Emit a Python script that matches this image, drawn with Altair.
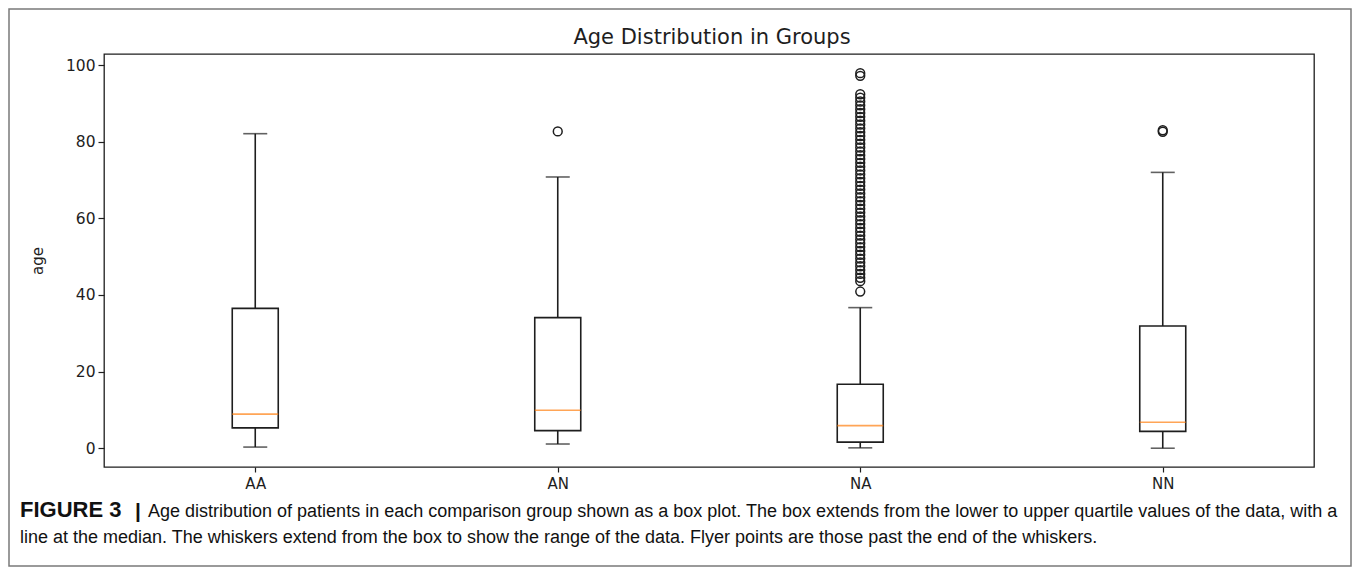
import altair as alt
import pandas as pd

# ---- data ----
groups = ["AA", "AN", "NA", "NN"]
whisker_low = [0.3, 1.1, 0.1, 0.0]
q1 = [5.3, 4.6, 1.6, 4.4]
median = [8.9, 9.9, 5.9, 6.8]
q3 = [36.5, 34.1, 16.7, 31.9]
whisker_high = [82.1, 70.8, 36.7, 72.0]

outliers_AN = [82.7]
outliers_NA = [40.9, 43.6, 44.5, 45.5, 46.5, 47.5, 48.5, 49.5, 50.5, 51.5, 52.5,
               53.5, 54.5, 55.5, 56.5, 57.5, 58.5, 59.5, 60.5, 61.5, 62.5, 63.5,
               64.5, 65.5, 66.5, 67.5, 68.5, 69.5, 70.5, 71.5, 72.5, 73.5, 74.5,
               75.5, 76.5, 77.5, 78.5, 79.5, 80.5, 81.5, 82.5, 83.5, 84.5, 85.5,
               86.5, 87.5, 88.5, 89.5, 90.5, 91.5, 92.4, 97.2, 97.9]
outliers_NN = [82.6, 83.0]

y_ticks = [0, 20, 40, 60, 80, 100]
y_domain = [-4.9, 102.9]

title_text = "Age Distribution in Groups"
y_title = "age"
caption_figure = "FIGURE 3"
caption_bar = "|"
caption_line1 = ("Age distribution of patients in each comparison group shown as a box plot. "
                 "The box extends from the lower to upper quartile values of the data, with a")
caption_line2 = ("line at the median. The whiskers extend from the box to show the range of the data. "
                 "Flyer points are those past the end of the whiskers.")

# ---- tables ----
box_df = pd.DataFrame({"group": groups, "low": whisker_low, "q1": q1,
                       "median": median, "q3": q3, "high": whisker_high})
out_df = pd.DataFrame({
    "group": ["AN"] * len(outliers_AN) + ["NA"] * len(outliers_NA) + ["NN"] * len(outliers_NN),
    "age": outliers_AN + outliers_NA + outliers_NN,
})
one = pd.DataFrame({"k": [0]})

W, H = 1210, 413
PAD_L, PAD_T, PAD_R, PAD_B = 96, 46, 38, 100
INK = "#1e1e1e"
FONT = "DejaVu Sans"
CAP_FONT = "Liberation Sans"
LW = 1.6

x_enc = alt.X("group:N",
              scale=alt.Scale(type="point", padding=0.5, domain=groups),
              axis=alt.Axis(title=None, labelAngle=0, domain=False, grid=False,
                            ticks=True, tickSize=5, tickColor=INK, tickWidth=1.2,
                            labelFont=FONT, labelFontSize=15, labelColor=INK,
                            labelPadding=4))
y_scale = alt.Scale(domain=y_domain, nice=False, zero=False)
y_axis = alt.Axis(title=y_title, values=y_ticks, domain=False, grid=False,
                  tickSize=6, tickColor=INK, tickWidth=1.2,
                  labelFont=FONT, labelFontSize=15.5, labelColor=INK, labelPadding=3,
                  titleFont=FONT, titleFontSize=15, titleFontWeight="normal",
                  titleColor=INK, titlePadding=20)

base = alt.Chart(box_df)

whisk_up = base.mark_rule(color=INK, strokeWidth=LW).encode(
    x=x_enc, y=alt.Y("q3:Q", scale=y_scale, axis=y_axis), y2="high:Q")
whisk_dn = base.mark_rule(color=INK, strokeWidth=LW).encode(
    x=x_enc, y=alt.Y("low:Q", scale=y_scale, axis=y_axis), y2="q1:Q")
box = base.mark_bar(size=46, fill="white", stroke=INK, strokeWidth=LW).encode(
    x=x_enc, y=alt.Y("q1:Q", scale=y_scale, axis=y_axis), y2="q3:Q")
cap_hi = base.mark_tick(size=24, thickness=LW, color=INK, orient="horizontal").encode(
    x=x_enc, y=alt.Y("high:Q", scale=y_scale, axis=y_axis))
cap_lo = base.mark_tick(size=24, thickness=LW, color=INK, orient="horizontal").encode(
    x=x_enc, y=alt.Y("low:Q", scale=y_scale, axis=y_axis))
med = base.mark_tick(size=46, thickness=1.6, color="#ff7f0e", orient="horizontal").encode(
    x=x_enc, y=alt.Y("median:Q", scale=y_scale, axis=y_axis))
flyers = alt.Chart(out_df).mark_point(shape="circle", filled=False, size=78,
                                      stroke=INK, strokeWidth=1.5, opacity=1).encode(
    x=x_enc, y=alt.Y("age:Q", scale=y_scale, axis=y_axis))

title = alt.Chart(one).mark_text(text=title_text, font=FONT, fontSize=21, color=INK,
                                 align="center", baseline="alphabetic").encode(
    x=alt.value(W / 2 + 3), y=alt.value(-10))
cap_f = alt.Chart(one).mark_text(text=caption_figure, font=CAP_FONT, fontSize=22,
                                 fontWeight="bold", color="#111111",
                                 align="left", baseline="alphabetic").encode(
    x=alt.value(-84), y=alt.value(463))
cap_bar = alt.Chart(one).mark_text(text=caption_bar, font=CAP_FONT, fontSize=21,
                                   fontWeight="bold", color="#111111",
                                   align="left", baseline="alphabetic").encode(
    x=alt.value(31), y=alt.value(464))
cap_1 = alt.Chart(one).mark_text(text=caption_line1, font=CAP_FONT, fontSize=18,
                                 color="#111111", align="left", baseline="alphabetic").encode(
    x=alt.value(44), y=alt.value(463))
cap_2 = alt.Chart(one).mark_text(text=caption_line2, font=CAP_FONT, fontSize=18,
                                 color="#111111", align="left", baseline="alphabetic").encode(
    x=alt.value(-84), y=alt.value(489))
border = alt.Chart(one).mark_rect(fill=None, stroke="#7a7a7a", strokeWidth=1.5).encode(
    x=alt.value(-PAD_L + 1), x2=alt.value(W + PAD_R - 1),
    y=alt.value(-PAD_T + 1), y2=alt.value(H + PAD_B - 1))

chart = alt.layer(border, whisk_up, whisk_dn, box, cap_hi, cap_lo, med, flyers,
                  title, cap_f, cap_bar, cap_1, cap_2).properties(
    width=W, height=H,
    padding={"left": PAD_L, "top": PAD_T, "right": PAD_R, "bottom": PAD_B},
    autosize=alt.AutoSizeParams(type="none"),
    background="white",
).configure_view(stroke=INK, strokeWidth=1.3)

chart.save("out.html", embed_options={"renderer": "svg", "actions": False})
